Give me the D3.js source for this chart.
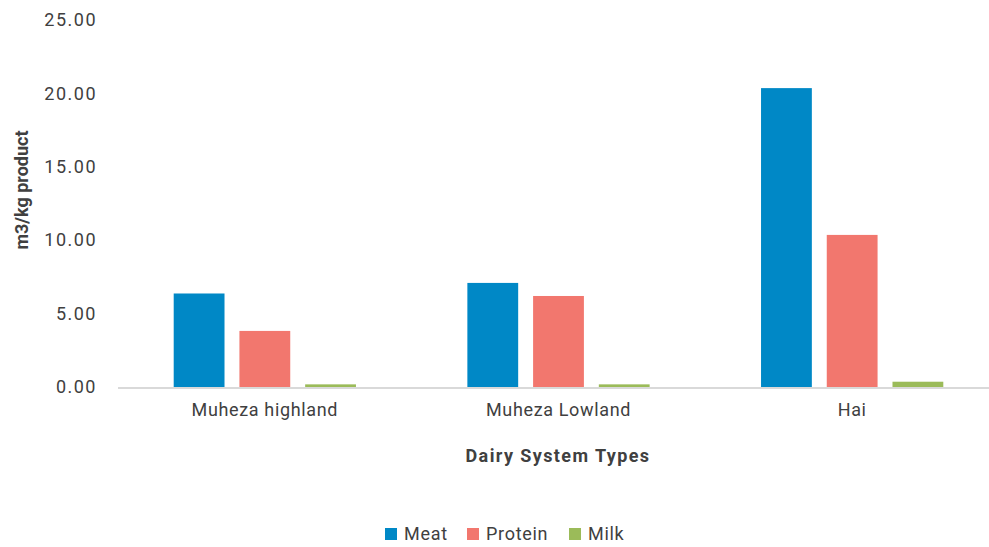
<!DOCTYPE html>
<html>
<head>
<meta charset="utf-8">
<script src="https://cdn.jsdelivr.net/npm/d3@7"></script>
<style>
  html, body { margin: 0; padding: 0; background: #fff; }
  svg { display: block; }
  text { font-family: "Roboto", "Liberation Sans", sans-serif; fill: #404040; }
</style>
</head>
<body>
<div id="chart"></div>
<script>
// Water footprint per kg of product by dairy system
const categories = ["Muheza highland", "Muheza Lowland", "Hai"];
const seriesNames = ["Meat", "Protein", "Milk"];
const meat = [6.37, 7.09, 20.36];
const protein = [3.82, 6.20, 10.36];
const milk = [0.18, 0.18, 0.36];
const yTicks = [0, 5, 10, 15, 20, 25];
const colors = ["#0088C6", "#F2776E", "#9BBB59"];

const width = 989, height = 547;
const svg = d3.select("#chart").append("svg")
  .attr("width", width).attr("height", height);

const x = d3.scaleBand().domain(categories).range([118, 999]).padding(0);
const inner = d3.scaleBand().domain(seriesNames)
  .range([55.7, x.bandwidth() - 55.7]).paddingInner(0.227).paddingOuter(0);
const y = d3.scaleLinear().domain([0, 25]).range([387, 20]);

const values = { Meat: meat, Protein: protein, Milk: milk };

// y tick labels (no gridlines, no axis line)
const yAxis = svg.append("g").attr("transform", "translate(97,0)")
  .call(d3.axisLeft(y).tickValues(yTicks).tickFormat(d3.format(".2f")).tickSize(0).tickPadding(0));
yAxis.select(".domain").remove();
yAxis.selectAll("text").style("font-size", "18px").style("fill", "#404040")
  .style("letter-spacing", "1.5px")
  .style("font-family", "Roboto, sans-serif");

// bars
const groups = svg.append("g").selectAll("g").data(categories).join("g")
  .attr("transform", d => `translate(${x(d)},0)`);
groups.selectAll("rect")
  .data((c, i) => seriesNames.map((s, k) => ({ s, v: values[s][i], k })))
  .join("rect")
  .attr("x", d => inner(d.s))
  .attr("width", inner.bandwidth())
  .attr("y", d => y(d.v))
  .attr("height", d => y(0) - y(d.v))
  .attr("fill", d => colors[d.k]);

// baseline
svg.append("line")
  .attr("x1", 118).attr("x2", 999)
  .attr("y1", y(0) + 1).attr("y2", y(0) + 1)
  .attr("stroke", "#d9d9d9").attr("stroke-width", 2);

// x axis category labels
const xAxis = svg.append("g").attr("transform", `translate(0,${y(0) + 2})`)
  .call(d3.axisBottom(x).tickSize(0).tickPadding(14));
xAxis.select(".domain").remove();
xAxis.selectAll("text").style("font-size", "18px").style("fill", "#404040")
  .style("letter-spacing", "0.65px")
  .style("font-family", "Roboto, sans-serif");

// axis titles
svg.append("text")
  .attr("x", 558).attr("y", 462)
  .attr("text-anchor", "middle")
  .style("font-size", "18px").style("font-weight", "bold")
  .style("letter-spacing", "1.4px")
  .text("Dairy System Types");

svg.append("text")
  .attr("transform", "translate(28,190) rotate(-90)")
  .attr("text-anchor", "middle")
  .style("font-size", "18px").style("font-weight", "bold")
  .text("m3/kg product");

// legend
const legendX = [385, 467, 569];
const legend = svg.append("g").selectAll("g").data(seriesNames).join("g")
  .attr("transform", (d, i) => `translate(${legendX[i]},528)`);
legend.append("rect").attr("width", 12).attr("height", 12)
  .attr("fill", (d, i) => colors[i]);
legend.append("text").attr("x", 19).attr("y", 12)
  .style("font-size", "18px").style("letter-spacing", "0.7px").text(d => d);
</script>
</body>
</html>
